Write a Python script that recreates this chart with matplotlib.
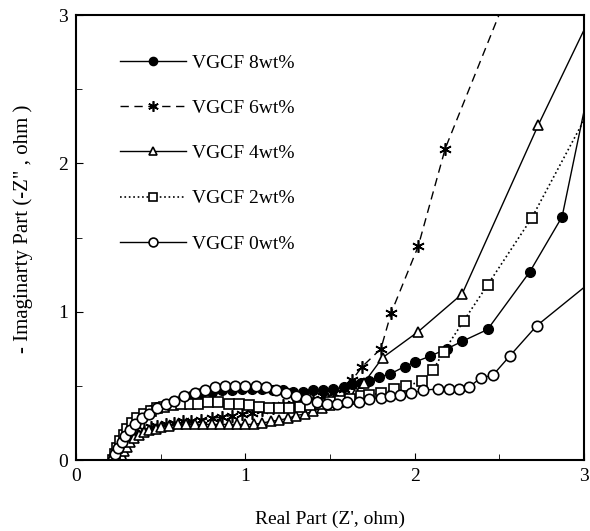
import numpy as np
import matplotlib
matplotlib.use('Agg')
import matplotlib.pyplot as plt
from matplotlib.ticker import MultipleLocator

plt.rcParams['font.family'] = ['Liberation Serif', 'DejaVu Serif']

# VGCF 8wt% (filled circles)
x8 = [0.22, 0.23, 0.25, 0.27, 0.30, 0.33, 0.36, 0.40, 0.44, 0.48, 0.53, 0.58, 0.63, 0.68,
      0.74, 0.80, 0.86, 0.92, 0.98, 1.04, 1.10, 1.16, 1.22, 1.28, 1.34, 1.40, 1.46, 1.52,
      1.58, 1.63, 1.68, 1.73, 1.79, 1.855, 1.94, 2.00, 2.09, 2.19, 2.28, 2.43, 2.68, 2.87,
      3.05]
y8 = [0.00, 0.04, 0.09, 0.14, 0.19, 0.23, 0.27, 0.31, 0.34, 0.36, 0.38, 0.40, 0.42, 0.43,
      0.45, 0.46, 0.47, 0.47, 0.48, 0.48, 0.48, 0.47, 0.47, 0.46, 0.46, 0.47, 0.47, 0.48,
      0.49, 0.51, 0.52, 0.53, 0.56, 0.58, 0.63, 0.66, 0.70, 0.75, 0.80, 0.88, 1.27, 1.64,
      2.63]

# VGCF 6wt% (stars)
x6 = [0.25, 0.26, 0.28, 0.30, 0.33, 0.36, 0.40, 0.44, 0.48, 0.53, 0.58, 0.63, 0.68, 0.74,
      0.80, 0.86, 0.92, 0.98, 1.04, 1.10, 1.16, 1.22, 1.28, 1.34, 1.40, 1.46, 1.52, 1.58,
      1.63, 1.69, 1.80, 1.86, 2.02, 2.18, 2.55]
y6 = [0.00, 0.04, 0.08, 0.12, 0.15, 0.18, 0.20, 0.22, 0.23, 0.24, 0.25, 0.26, 0.26, 0.27,
      0.28, 0.29, 0.30, 0.31, 0.32, 0.34, 0.35, 0.37, 0.38, 0.39, 0.41, 0.43, 0.45, 0.48,
      0.54, 0.63, 0.75, 0.99, 1.44, 2.10, 3.15]

# VGCF 4wt% (triangles)
x4 = [0.26, 0.27, 0.28, 0.30, 0.32, 0.34, 0.37, 0.40, 0.43, 0.47, 0.50, 0.55, 0.60, 0.65,
      0.70, 0.75, 0.80, 0.85, 0.90, 0.95, 1.00, 1.05, 1.10, 1.15, 1.20, 1.25, 1.30, 1.35,
      1.40, 1.45, 1.50, 1.55, 1.60, 1.65, 1.70, 1.81, 2.02, 2.28, 2.73, 3.08]
y4 = [0.00, 0.03, 0.06, 0.09, 0.12, 0.15, 0.17, 0.19, 0.20, 0.21, 0.22, 0.23, 0.24, 0.24,
      0.24, 0.24, 0.24, 0.24, 0.24, 0.24, 0.24, 0.24, 0.25, 0.26, 0.27, 0.28, 0.30, 0.31,
      0.33, 0.35, 0.37, 0.39, 0.42, 0.46, 0.52, 0.69, 0.865, 1.12, 2.26, 3.09]

# VGCF 2wt% (squares)
x2 = [0.22, 0.23, 0.24, 0.26, 0.28, 0.30, 0.33, 0.36, 0.40, 0.44, 0.48, 0.52, 0.57, 0.62,
      0.67, 0.72, 0.78, 0.84, 0.90, 0.96, 1.02, 1.08, 1.14, 1.20, 1.26, 1.32, 1.38, 1.44,
      1.50, 1.56, 1.62, 1.68, 1.73, 1.80, 1.88, 1.95, 2.04, 2.11, 2.17, 2.29, 2.43, 2.69,
      3.05]
y2 = [0.00, 0.04, 0.08, 0.13, 0.17, 0.21, 0.25, 0.28, 0.31, 0.33, 0.35, 0.36, 0.37, 0.38,
      0.38, 0.38, 0.39, 0.39, 0.38, 0.38, 0.37, 0.36, 0.35, 0.35, 0.35, 0.36, 0.37, 0.38,
      0.39, 0.40, 0.41, 0.43, 0.44, 0.45, 0.48, 0.50, 0.53, 0.61, 0.73, 0.94, 1.18, 1.63,
      2.40]

# VGCF 0wt% (open circles)
x0 = [0.22, 0.23, 0.25, 0.27, 0.29, 0.32, 0.35, 0.39, 0.43, 0.48, 0.53, 0.58, 0.64, 0.70,
      0.76, 0.82, 0.88, 0.94, 1.00, 1.06, 1.12, 1.18, 1.24, 1.30, 1.36, 1.42, 1.48, 1.54,
      1.60, 1.67, 1.73, 1.80, 1.855, 1.91, 1.98, 2.05, 2.14, 2.20, 2.26, 2.32, 2.39, 2.46,
      2.56, 2.72, 3.05]
y0 = [0.00, 0.04, 0.08, 0.12, 0.16, 0.20, 0.24, 0.28, 0.31, 0.35, 0.38, 0.40, 0.43, 0.45,
      0.47, 0.49, 0.50, 0.50, 0.50, 0.50, 0.49, 0.47, 0.45, 0.43, 0.41, 0.39, 0.38, 0.38,
      0.39, 0.39, 0.41, 0.42, 0.43, 0.44, 0.45, 0.47, 0.48, 0.48, 0.48, 0.49, 0.555, 0.57,
      0.70, 0.905, 1.21]

fig = plt.figure(figsize=(5.9, 5.31), dpi=100)
ax = fig.add_axes([0.129, 0.1337, 0.861, 0.838])

ax.plot(x8, y8, '-', color='black', lw=1, marker='o', ms=7, mfc='black', mec='black',
        label='VGCF 8wt%')
ax.plot(x6, y6, '--', color='black', lw=1, dashes=(6, 4), marker=(6, 2, 0), ms=9, mew=1.2,
        mec='black', label='VGCF 6wt%')
ax.plot(x4, y4, '-', color='black', lw=1, marker='^', ms=7, mfc='white', mec='black', mew=1.2,
        label='VGCF 4wt%')
ax.plot(x2, y2, ':', color='black', lw=1.2, marker='s', ms=7, mfc='white', mec='black', mew=1.2,
        label='VGCF 2wt%')
ax.plot(x0, y0, '-', color='black', lw=1, marker='o', ms=7.5, mfc='white', mec='black', mew=1.2,
        label='VGCF 0wt%')

ax.set_xlim(0, 3)
ax.set_ylim(0, 3)
ax.xaxis.set_major_locator(MultipleLocator(1))
ax.yaxis.set_major_locator(MultipleLocator(1))
ax.xaxis.set_minor_locator(MultipleLocator(0.5))
ax.yaxis.set_minor_locator(MultipleLocator(0.5))
ax.tick_params(which='both', direction='in', labelsize=14, top=False, right=False)
ax.tick_params(which='major', length=5, pad=6)
ax.tick_params(which='minor', length=4)
for s in ax.spines.values():
    s.set_linewidth(1.5)

ax.set_xlabel("Real Part (Z', ohm)", fontsize=14, labelpad=18)
ax.set_ylabel('- Imaginarty Part (-Z" , ohm )', fontsize=15)
ax.yaxis.set_label_coords(-0.085, 0.52)

ax.legend(loc='upper left', bbox_to_anchor=(0.087, 0.912), frameon=False, fontsize=14,
          handlelength=3.4, handletextpad=0.3, labelspacing=1.42, borderpad=0,
          borderaxespad=0, markerscale=0.85)

fig.savefig('out.png', dpi=100)
